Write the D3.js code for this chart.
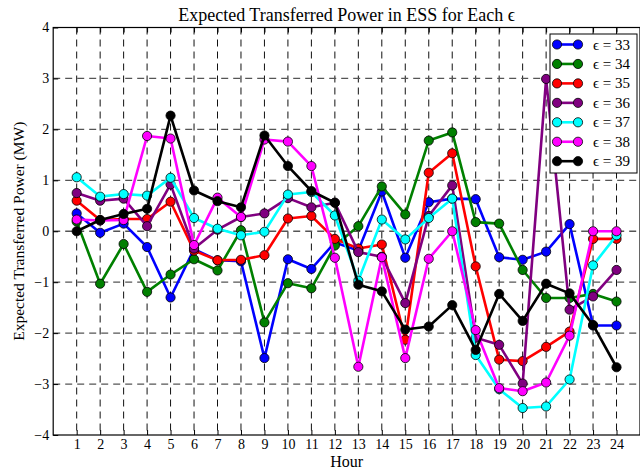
<!DOCTYPE html>
<html>
<head>
<meta charset="utf-8">
<script src="https://cdn.jsdelivr.net/npm/d3@7"></script>
<style>
  body { margin: 0; background: #fff; }
  svg { font-family: "Liberation Serif", "DejaVu Serif", serif; }
</style>
</head>
<body>
<svg id="chart"></svg>
<script>
const w = 640;
const h = 470;

const hours = d3.range(1, 25);
const yTicks = [-4, -3, -2, -1, 0, 1, 2, 3, 4];

const epsilons = [33, 34, 35, 36, 37, 38, 39];
const colors = ['#0000ff', '#008000', '#ff0000', '#800080', '#00ffff', '#ff00ff', '#000000'];

const eps33 = [0.35, -0.03, 0.15, -0.31, -1.3, -0.35, -0.57, -0.59, -2.49, -0.55, -0.74, -0.22,
  -0.38, 0.78, -0.52, 0.57, 0.64, 0.63, -0.51, -0.56, -0.4, 0.14, -1.85, -1.85];
const eps34 = [0.19, -1.03, -0.25, -1.19, -0.85, -0.55, -0.77, 0.02, -1.79, -1.02, -1.12, -0.28,
  0.1, 0.88, 0.33, 1.78, 1.94, 0.18, 0.15, -0.76, -1.31, -1.31, -1.23, -1.38];
const eps35 = [0.6, 0.22, 0.24, 0.24, 0.58, -0.38, -0.57, -0.56, -0.47, 0.25, 0.3, -0.15,
  -0.34, -0.26, -2.13, 1.15, 1.53, -0.69, -2.52, -2.55, -2.27, -1.97, -0.15, -0.15];
const eps36 = [0.75, 0.6, 0.64, 0.1, 0.92, -0.34, 0.03, 0.28, 0.35, 0.65, 0.47, 0.56,
  -0.41, -0.5, -1.41, 0.3, 0.9, -2.09, -2.23, -2.99, 2.99, -1.54, -1.28, -0.76];
const eps37 = [1.06, 0.68, 0.73, 0.7, 1.05, 0.26, 0.05, -0.08, -0.01, 0.72, 0.77, 0.31,
  -0.97, 0.23, -0.16, 0.26, 0.64, -2.43, -3.1, -3.47, -3.44, -2.91, -0.67, -0.08];
const eps38 = [0.23, 0.21, 0.22, 1.87, 1.82, -0.27, 0.66, 0.28, 1.8, 1.76, 1.28, -0.52,
  -2.66, -0.51, -2.49, -0.54, 0.0, -1.94, -3.08, -3.14, -2.97, -2.05, 0.0, 0.0];
const eps39 = [0.0, 0.22, 0.34, 0.44, 2.27, 0.8, 0.59, 0.47, 1.88, 1.28, 0.79, 0.56,
  -1.05, -1.18, -1.93, -1.87, -1.45, -2.33, -1.23, -1.76, -1.03, -1.22, -1.84, -2.67];

const seriesValues = [eps33, eps34, eps35, eps36, eps37, eps38, eps39];

const margin = { top: 27.5, right: 0, bottom: 35, left: 53.2 };

const svg = d3.select('#chart').attr('width', w).attr('height', h);

const xScale = d3.scaleLinear().domain([0, 25]).range([margin.left, w - margin.right]);
const yScale = d3.scaleLinear().domain([-4, 4]).range([h - margin.bottom, margin.top]);

// grid
const grid = svg.append('g');
grid.selectAll('line.vg')
  .data(hours)
  .enter()
  .append('line')
  .attr('x1', (d) => xScale(d))
  .attr('x2', (d) => xScale(d))
  .attr('y1', yScale(4))
  .attr('y2', yScale(-4))
  .attr('stroke', '#111')
  .attr('stroke-width', 1)
  .attr('stroke-dasharray', '7,5');
grid.selectAll('line.hg')
  .data(yTicks.slice(1, -1))
  .enter()
  .append('line')
  .attr('x1', xScale(0))
  .attr('x2', xScale(25))
  .attr('y1', (d) => yScale(d))
  .attr('y2', (d) => yScale(d))
  .attr('stroke', '#555')
  .attr('stroke-width', 1.3)
  .attr('stroke-dasharray', '7,5');

// series
seriesValues.forEach((vals, i) => {
  const pts = hours.map((hr, j) => [hr, vals[j]]);
  const g = svg.append('g');
  g.append('path')
    .datum(pts)
    .attr('fill', 'none')
    .attr('stroke', colors[i])
    .attr('stroke-width', 2.6)
    .attr('stroke-linejoin', 'round')
    .attr('d', d3.line().x((d) => xScale(d[0])).y((d) => yScale(d[1])));
  g.selectAll('circle')
    .data(pts)
    .enter()
    .append('circle')
    .attr('cx', (d) => xScale(d[0]))
    .attr('cy', (d) => yScale(d[1]))
    .attr('r', 4.6)
    .attr('fill', colors[i])
    .attr('stroke', '#000')
    .attr('stroke-width', 0.8);
});

// axes (ticks inside, like the original)
const xAxis = d3.axisBottom(xScale).tickValues(hours).tickSize(-5).tickPadding(4);
svg.append('g')
  .attr('transform', `translate(0, ${yScale(-4)})`)
  .call(xAxis)
  .call((g) => g.select('.domain').remove());

const xTop = d3.axisTop(xScale).tickValues(hours).tickSize(-5).tickFormat('');
svg.append('g')
  .attr('transform', `translate(0, ${yScale(4)})`)
  .call(xTop)
  .call((g) => g.select('.domain').remove());

const yAxis = d3.axisLeft(yScale).tickValues(yTicks).tickSize(-5).tickPadding(4)
  .tickFormat((d) => (d < 0 ? '\u2212' + Math.abs(d) : d));
svg.append('g')
  .attr('transform', `translate(${xScale(0)}, 0)`)
  .call(yAxis)
  .call((g) => g.select('.domain').remove());

svg.selectAll('.tick text').attr('font-size', 14).attr('font-family', 'Liberation Serif').attr('fill', '#000');
svg.selectAll('.tick line').attr('stroke', '#000');

// frame
svg.append('rect')
  .attr('x', xScale(0))
  .attr('y', yScale(4))
  .attr('width', xScale(25) - xScale(0))
  .attr('height', yScale(-4) - yScale(4))
  .attr('fill', 'none')
  .attr('stroke', '#000')
  .attr('stroke-width', 1.2);

// title and labels
svg.append('text')
  .attr('x', (xScale(0) + xScale(25)) / 2)
  .attr('y', 21)
  .attr('text-anchor', 'middle')
  .attr('font-size', 18)
  .text('Expected Transferred Power in ESS for Each \u03f5');

svg.append('text')
  .attr('x', (xScale(0) + xScale(25)) / 2)
  .attr('y', 467)
  .attr('text-anchor', 'middle')
  .attr('font-size', 16)
  .text('Hour');

svg.append('text')
  .attr('transform', `translate(24, ${(yScale(4) + yScale(-4)) / 2}) rotate(-90)`)
  .attr('text-anchor', 'middle')
  .attr('font-size', 15.5)
  .text('Expected Transferred Power (MW)');

// legend
const legend = svg.append('g').attr('transform', 'translate(550, 34)');
legend.append('rect')
  .attr('width', 87)
  .attr('height', 139)
  .attr('fill', '#fff')
  .attr('stroke', '#000')
  .attr('stroke-width', 1);
epsilons.forEach((e, i) => {
  const row = legend.append('g').attr('transform', `translate(0, ${10.5 + i * 19.45})`);
  row.append('line')
    .attr('x1', 7).attr('x2', 28)
    .attr('stroke', colors[i])
    .attr('stroke-width', 2.6);
  [7, 28].forEach((cx) => {
    row.append('circle')
      .attr('cx', cx)
      .attr('r', 4.6)
      .attr('fill', colors[i])
      .attr('stroke', '#000')
      .attr('stroke-width', 0.8);
  });
  row.append('text')
    .attr('x', 43)
    .attr('y', 5)
    .attr('font-size', 15)
    .text(`\u03f5 = ${e}`);
});
</script>
</body>
</html>
